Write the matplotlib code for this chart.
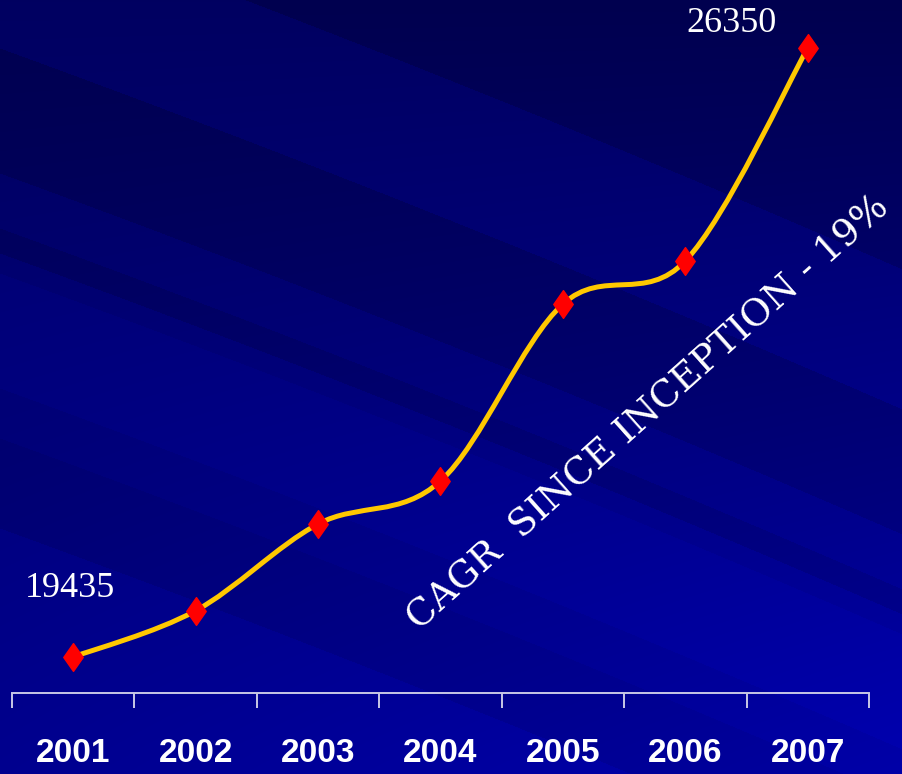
import numpy as np
import matplotlib
matplotlib.use("Agg")
import matplotlib.pyplot as plt
from matplotlib.path import Path
from matplotlib.patches import PathPatch

# ---- data ----
years = ["2001", "2002", "2003", "2004", "2005", "2006", "2007"]
values = [19435, 19960, 20945, 21433, 23443, 23932, 26350]
first_label = "19435"
last_label = "26350"
note = "CAGR  SINCE INCEPTION - 19%"

W, H = 903, 774
fig = plt.figure(figsize=(W / 100, H / 100), dpi=100)

# ---- background (diagonal streaks) ----
bg = fig.add_axes([0, 0, 1, 1])
bg.set_axis_off()
yy, xx = np.mgrid[0:H, 0:W].astype(float)
a = yy - 0.40 * xx - 0.00004 * (xx - 450) ** 2
base = 0.38 + 0.16 * (yy / H) + 0.12 * (xx / W) * (yy / H)
edges = [-1000, -100, 40, 165, 220, 245, 265, 380, 430, 520, 2000]
mods = [-0.07, 0.0, -0.07, -0.01, -0.06, 0.0, 0.03, 0.0, -0.03, 0.02]
mod = np.zeros_like(a)
for i in range(len(mods)):
    mod[(a >= edges[i]) & (a < edges[i + 1])] = mods[i]
blue = np.clip(base + mod, 0, 1)
img = np.zeros((H, W, 3))
img[..., 2] = blue
bg.imshow(img, extent=[0, W, H, 0], aspect="auto", interpolation="bilinear")
bg.set_xlim(0, W)
bg.set_ylim(H, 0)

# ---- chart axes ----
ax = fig.add_axes([12 / W, 81 / H, (869 - 12) / W, 693 / H])
ax.patch.set_alpha(0)
n = len(years)
x = np.arange(n, dtype=float)
y = np.array(values, dtype=float)
ax.set_xlim(-0.5, n - 0.5)
ax.set_ylim(19026, 26895)

# smoothed line (Bezier smoothing, like a spreadsheet "smoothed line")
P = np.column_stack([x, y])
Pe = np.vstack([P[0], P, P[-1]])
verts = [tuple(P[0])]
codes = [Path.MOVETO]
for i in range(n - 1):
    p0, p1, p2, p3 = Pe[i], Pe[i + 1], Pe[i + 2], Pe[i + 3]
    c1 = p1 + (p2 - p0) / 6.0
    c2 = p2 - (p3 - p1) / 6.0
    verts += [tuple(c1), tuple(c2), tuple(p2)]
    codes += [Path.CURVE4] * 3
ax.add_patch(PathPatch(Path(verts, codes), facecolor="none",
                       edgecolor="#ffc800", lw=3.6, capstyle="round",
                       joinstyle="round", zorder=3))

diamond = Path([(0, 1), (0.7, 0), (0, -1), (-0.7, 0), (0, 1)],
               [Path.MOVETO, Path.LINETO, Path.LINETO, Path.LINETO, Path.CLOSEPOLY])
ax.plot(x, y, linestyle="none", marker=diamond, markersize=20,
        markerfacecolor="#ff0000", markeredgecolor="#ff0000", zorder=4)

# axis styling
for s in ["left", "right", "top"]:
    ax.spines[s].set_visible(False)
ax.spines["bottom"].set_color("#c8c8e6")
ax.spines["bottom"].set_linewidth(1.4)
ax.set_yticks([])
ax.set_xticks(np.arange(-0.5, n, 1.0))
ax.set_xticklabels([])
ax.tick_params(axis="x", direction="out", length=11, width=1.4, color="#c8c8e6")
for i, yr in enumerate(years):
    ax.annotate(yr, (x[i], 0), xycoords=("data", "axes fraction"),
                xytext=(0, -61), textcoords="offset pixels",
                ha="center", va="center", color="white", fontsize=24,
                fontweight="bold",
                family=["Liberation Sans", "DejaVu Sans"])

# value labels
ax.annotate(first_label, (x[0], y[0]), xytext=(-3, 68), textcoords="offset pixels",
            ha="center", va="center", color="white", fontsize=26,
            family=["Liberation Serif", "DejaVu Serif"])
ax.annotate(last_label, (x[-1], y[-1]), xytext=(-76, 24), textcoords="offset pixels",
            ha="center", va="center", color="white", fontsize=26,
            family=["Liberation Serif", "DejaVu Serif"])

# rotated note
fig.text(648 / W, 1 - 412 / H, note, rotation=41.8, rotation_mode="anchor",
         ha="center", va="center", color="white", fontsize=27,
         family=["DejaVu Serif"])

fig.savefig("out.png", dpi=100)
